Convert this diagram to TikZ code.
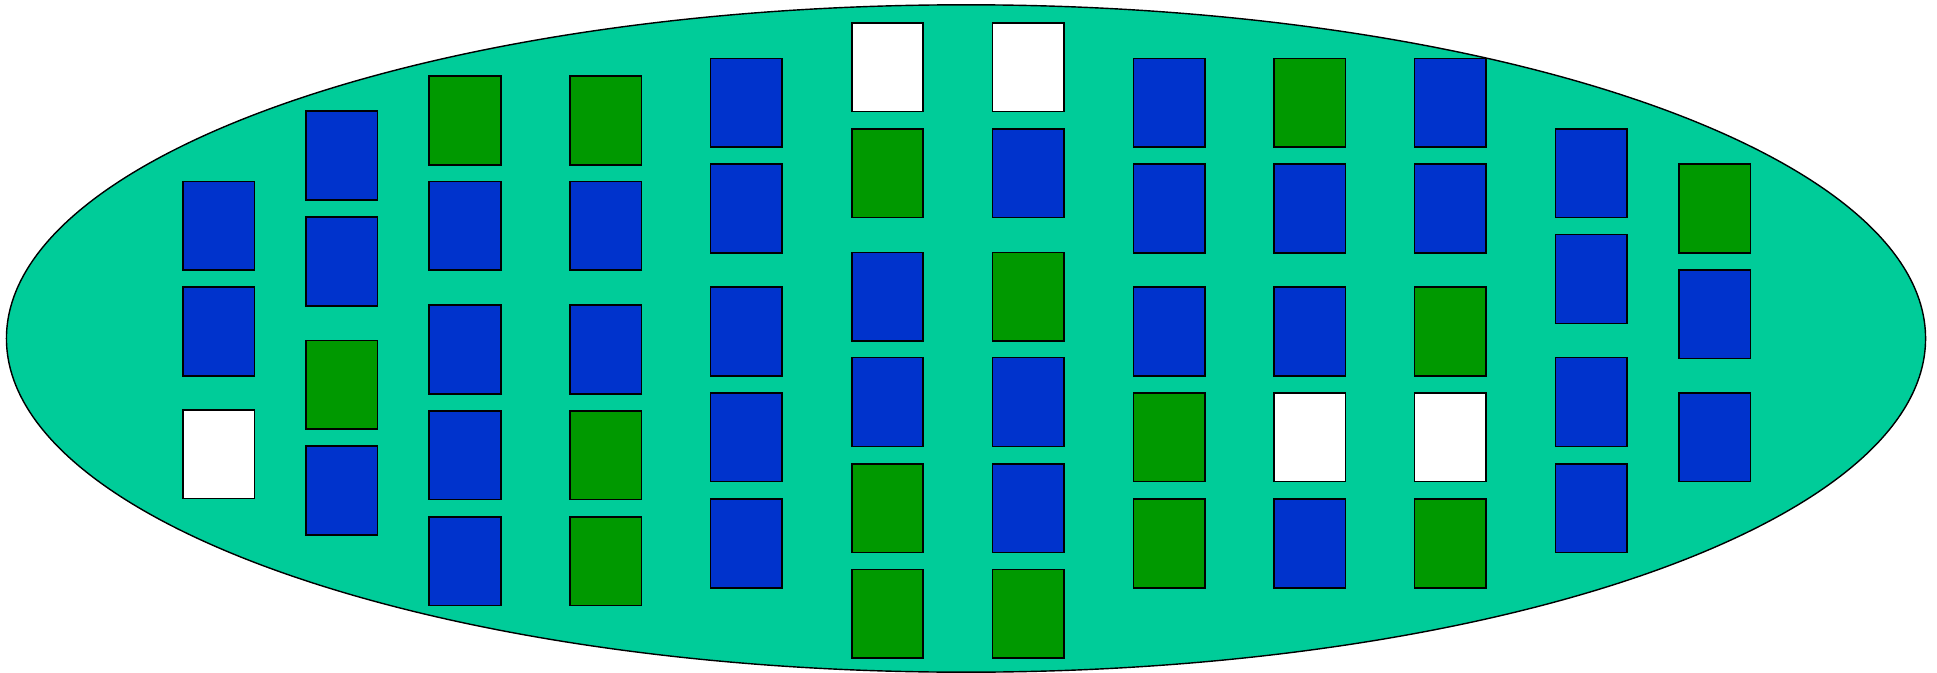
\documentclass[tikz,border=0pt]{standalone}
\usepackage{tikz}
\usetikzlibrary{shapes.geometric}
\usepackage{xcolor}
\definecolor{plateTeal}{HTML}{00CC99}
\definecolor{cellBlue}{HTML}{0033CC}
\definecolor{cellGreen}{HTML}{009900}

\begin{document}
\begin{tikzpicture}[
        x=0.01cm, y=-0.01cm,
        plate/.style={
            ellipse,
            draw=black,
            fill=plateTeal,
            line width=0.4pt,
            minimum width=19.18cm,
            minimum height=6.67cm,
            inner sep=0pt
        },
        cell/.style={
            rectangle,
            draw=black,
            line width=0.45pt,
            minimum width=0.714cm,
            minimum height=0.886cm,
            inner sep=0pt
        }
    ]

    \useasboundingbox (0,0) rectangle (1937,673);

    \node[plate] (dish) at (966,338.5) {};

    % columns, left to right
    \foreach \y/\c [count=\r] in {225.7/cellBlue,331.6/cellBlue,454.3/white}
        \node[cell, fill=\c] (c1-\r) at (218.7,\y) {};

    \foreach \y/\c [count=\r] in {155.6/cellBlue,261.4/cellBlue,384.8/cellGreen,490.6/cellBlue}
        \node[cell, fill=\c] (c2-\r) at (341.7,\y) {};

    \foreach \y/\c [count=\r] in {120.4/cellGreen,225.7/cellBlue,349.5/cellBlue,455.3/cellBlue,561.1/cellBlue}
        \node[cell, fill=\c] (c3-\r) at (465,\y) {};

    \foreach \y/\c [count=\r] in {120.4/cellGreen,225.7/cellBlue,349.5/cellBlue,455.3/cellGreen,561.1/cellGreen}
        \node[cell, fill=\c] (c4-\r) at (605.8,\y) {};

    \foreach \y/\c [count=\r] in {102.8/cellBlue,208.5/cellBlue,331.5/cellBlue,437.3/cellBlue,543.4/cellBlue}
        \node[cell, fill=\c] (c5-\r) at (746.4,\y) {};

    \foreach \y/\c [count=\r] in {67.1/white,173.3/cellGreen,296.7/cellBlue,402/cellBlue,508.2/cellGreen,613.9/cellGreen}
        \node[cell, fill=\c] (c6-\r) at (887.5,\y) {};

    \foreach \y/\c [count=\r] in {67.1/white,173.3/cellBlue,296.7/cellGreen,402/cellBlue,508.2/cellBlue,613.9/cellGreen}
        \node[cell, fill=\c] (c7-\r) at (1028.3,\y) {};

    \foreach \y/\c [count=\r] in {102.8/cellBlue,208.5/cellBlue,331.5/cellBlue,437.3/cellGreen,543.4/cellGreen}
        \node[cell, fill=\c] (c8-\r) at (1169,\y) {};

    \foreach \y/\c [count=\r] in {102.8/cellGreen,208.5/cellBlue,331.5/cellBlue,437.3/white,543.4/cellBlue}
        \node[cell, fill=\c] (c9-\r) at (1309.6,\y) {};

    \foreach \y/\c [count=\r] in {102.8/cellBlue,208.5/cellBlue,331.5/cellGreen,437.3/white,543.4/cellGreen}
        \node[cell, fill=\c] (c10-\r) at (1450,\y) {};

    \foreach \y/\c [count=\r] in {173.3/cellBlue,279/cellBlue,402/cellBlue,508.2/cellBlue}
        \node[cell, fill=\c] (c11-\r) at (1591,\y) {};

    \foreach \y/\c [count=\r] in {208.5/cellGreen,314.3/cellBlue,437.3/cellBlue}
        \node[cell, fill=\c] (c12-\r) at (1714.6,\y) {};

\end{tikzpicture}
\end{document}
